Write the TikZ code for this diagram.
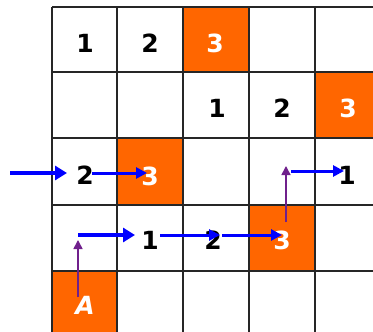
\documentclass[tikz,border=0pt]{standalone}
\usepackage{fontspec}
\setmainfont{DejaVu Sans}
\usetikzlibrary{arrows.meta}
\definecolor{cellorange}{RGB}{255,102,0}
\definecolor{arrblue}{RGB}{0,0,255}
\definecolor{arrpurple}{RGB}{112,32,140}
\begin{document}
\begin{tikzpicture}[x=1pt,y=-1pt,
  hot/.style={fill=cellorange,draw=none},
  gridline/.style={draw=black!85,line width=1.8pt},
  dg/.style={font=\bfseries\fontsize{25}{25}\selectfont,inner sep=0pt,text=black},
  wdg/.style={dg,text=white},
  bluearr/.style={draw=arrblue,line width=3pt,-{Triangle[length=11pt,width=11pt]}},
  bigarr/.style={draw=arrblue,line width=4.5pt,-{Triangle[length=12pt,width=14pt]}},
  purarr/.style={draw=arrpurple,line width=1.6pt,-{Triangle[length=9pt,width=9pt]}}]
\useasboundingbox (0,0) rectangle (373,332);
\fill[white] (0,0) rectangle (373,332);
% orange cells
\path[hot] (183,7) rectangle (249,72);
\path[hot] (315,72) rectangle (381,138);
\path[hot] (117,138) rectangle (183,205);
\path[hot] (249,205) rectangle (315,271);
\path[hot] (52,271) rectangle (117,337);
% grid
\foreach \x in {52,117,183,249,315} \draw[gridline] (\x,7) -- (\x,332);
\foreach \y in {7,72,138,205,271} \draw[gridline] (52,\y) -- (373,\y);
% texts
\node[dg]  (a1) at (85,43) {1};
\node[dg]  (a2) at (150,43) {2};
\node[wdg] (a3) at (215,43) {3};
\node[dg]  (b1) at (217,108) {1};
\node[dg]  (b2) at (282,108) {2};
\node[wdg] (b3) at (348,108) {3};
\node[dg]  (c2) at (85,175) {2};
\node[wdg] (c3) at (150,176) {3};
\node[dg]  (c1) at (347,175) {1};
\node[dg]  (d1) at (150,240) {1};
\node[dg]  (d2) at (213,240) {2};
\node[wdg] (d3) at (282,240) {3};
\node[wdg,font=\bfseries\itshape\fontsize{25}{25}\selectfont] (aa) at (85,305) {A};
% arrow ends
\coordinate (s0) at (10,173);
\coordinate (s1) at (92,173);
\coordinate (s2) at (78,235);
\coordinate (s3) at (160,235);
\coordinate (s4) at (222,235);
\coordinate (s5) at (291,171);
\coordinate (p0) at (78,297);
\coordinate (p1) at (286,222);
% arrows
\draw[bigarr] (s0) -- (67,173) coordinate (e0);
\draw[bluearr] (s1) -- (147,173) coordinate (e1);
\draw[bigarr] (s2) -- (135,235) coordinate (e2);
\draw[bluearr] (s3) -- (220,235) coordinate (e3);
\draw[bluearr] (s4) -- (282,235) coordinate (e4);
\draw[bluearr] (s5) -- (344,171) coordinate (e5);
\draw[purarr] (p0) -- (78,240) coordinate (q0);
\draw[purarr] (p1) -- (286,166) coordinate (q1);
\end{tikzpicture}
\end{document}
